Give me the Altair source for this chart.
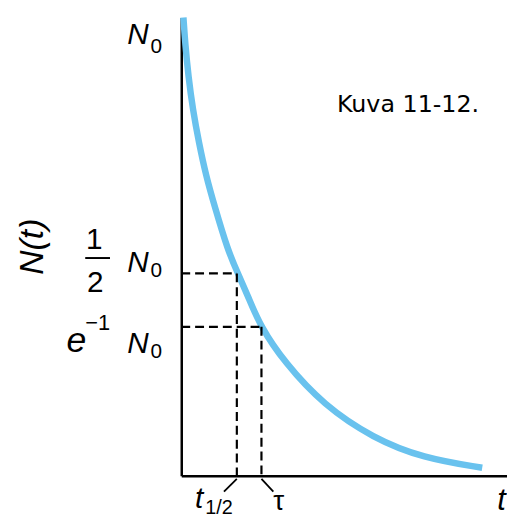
import altair as alt
import pandas as pd

# Decay curve (t in units of tau, N in units of N0)
curve_t = [0.027, 0.049, 0.090, 0.144, 0.219, 0.309, 0.414, 0.580, 0.704,
           0.840, 0.988, 1.284, 1.778, 2.395, 3.012, 3.753]
curve_N = [1.132, 1.068, 0.985, 0.905, 0.824, 0.741, 0.667, 0.557, 0.501,
           0.440, 0.369, 0.281, 0.174, 0.093, 0.044, 0.020]

# Marked points: half-life and mean life
mark_names = ["t_half", "tau"]
mark_t = [0.693, 1.0]
mark_N = [0.5, 0.368]

# Levels labelled on the N axis
level_names = ["N0", "half", "einv"]
level_N = [1.0, 0.5, 0.368]

# Axis ranges
t_range = [0, 4.062]
N_range = [0, 1.132]

MATH = "Liberation Sans"
TXT = "DejaVu Sans"
BLUE = "#69c2ee"

xs = alt.Scale(domain=t_range, nice=False, zero=False)
ys = alt.Scale(domain=N_range, nice=False, zero=False)

curve_df = pd.DataFrame({"t": curve_t, "N": curve_N})
marks_df = pd.DataFrame({"name": mark_names, "t": mark_t, "N": mark_N})
levels = dict(zip(level_names, level_N))
marks = dict(zip(mark_names, mark_t))

curve = alt.Chart(curve_df).mark_line(
    color=BLUE, strokeWidth=6.5, interpolate="basis", strokeCap="butt"
).encode(
    x=alt.X("t:Q", scale=xs, axis=alt.Axis(
        title="t", titleFontSize=31, titleX=323, titleY=34,
        titleAlign="center", titleBaseline="alphabetic")),
    y=alt.Y("N:Q", scale=ys, axis=alt.Axis(
        title="N(t)", titleFontSize=34, titleAngle=270, titleX=-140,
        titleY=231, titleAlign="center", titleBaseline="alphabetic")),
)

dash = dict(strokeDash=[9, 5], strokeWidth=2.2, color="black")
hdash = alt.Chart(marks_df).transform_calculate(zero="0").mark_rule(**dash).encode(
    x=alt.X("zero:Q", scale=xs), x2="t:Q",
    y=alt.Y("N:Q", scale=ys))
vdash = alt.Chart(marks_df).transform_calculate(zero="0").mark_rule(**dash).encode(
    x=alt.X("t:Q", scale=xs),
    y=alt.Y("N:Q", scale=ys), y2="zero:Q")


def ytext(txt, value, x, dy, size, italic=False, align="right"):
    df = pd.DataFrame({"N": [value], "label": [txt]})
    return alt.Chart(df).mark_text(
        align=align, baseline="alphabetic", dy=dy, fontSize=size, font=MATH,
        fontStyle="italic" if italic else "normal", color="black"
    ).encode(x=alt.value(x), y=alt.Y("N:Q", scale=ys), text="label:N")


def xtext(txt, value, dx, y, size, italic=False, align="left"):
    df = pd.DataFrame({"t": [value], "label": [txt]})
    return alt.Chart(df).mark_text(
        align=align, baseline="alphabetic", dx=dx, fontSize=size, font=MATH,
        fontStyle="italic" if italic else "normal", color="black"
    ).encode(x=alt.X("t:Q", scale=xs), y=alt.value(y), text="label:N")


def leader(value, off):
    df = pd.DataFrame({"t": [value]})
    return alt.Chart(df).mark_rule(strokeWidth=1.8, color="black", x2Offset=off).encode(
        x=alt.X("t:Q", scale=xs), x2="t:Q",
        y=alt.value(466), y2=alt.value(479))


frac_df = pd.DataFrame({"N": [levels["half"]]})
frac_bar = alt.Chart(frac_df).mark_rule(strokeWidth=2, color="black", yOffset=-15.5).encode(
    x=alt.value(-97), x2=alt.value(-72), y=alt.Y("N:Q", scale=ys))

labels = [
    ytext("N", levels["N0"], -33, -27, 30, italic=True),
    ytext("0", levels["N0"], -31, -18, 21, align="left"),
    ytext("N", levels["half"], -33, -1, 30, italic=True),
    ytext("0", levels["half"], -31, 4, 21, align="left"),
    ytext("1", levels["half"], -88, -25, 30, align="center"),
    ytext("2", levels["half"], -87, 19, 30, align="center"),
    ytext("N", levels["einv"], -33, 26, 30, italic=True),
    ytext("0", levels["einv"], -31, 31, 21, align="left"),
    ytext("e", levels["einv"], -96, 25, 36, italic=True),
    ytext("\u22121", levels["einv"], -97, 3, 22, align="left"),
    xtext("t", marks["t_half"], -34, 495, 30, italic=True, align="right"),
    xtext("1/2", marks["t_half"], -32, 502, 20, align="left"),
    xtext("\u03c4", marks["tau"], 12, 497, 28, align="left"),
]

caption = alt.Chart(pd.DataFrame({"c": ["Kuva 11-12."]})).mark_text(
    font=TXT, fontSize=24, align="center", baseline="alphabetic", color="black"
).encode(x=alt.value(229), y=alt.value(95), text="c:N")

chart = alt.layer(
    curve, hdash, vdash, frac_bar, leader(marks["t_half"], -13), leader(marks["tau"], 12),
    caption, *labels
).properties(
    width=329, height=463,
    padding={"left": 175, "top": 7, "right": 0, "bottom": 39},
    autosize=alt.AutoSizeParams(type="none"),
).configure_view(stroke=None).configure_axis(
    domain=True, domainColor="black", domainWidth=2.5, ticks=False,
    labels=False, grid=False, titleFont=MATH, titleFontStyle="italic",
    titleFontWeight="normal", titleColor="black",
)

chart.save("out.html", embed_options={"renderer": "svg", "actions": False})
